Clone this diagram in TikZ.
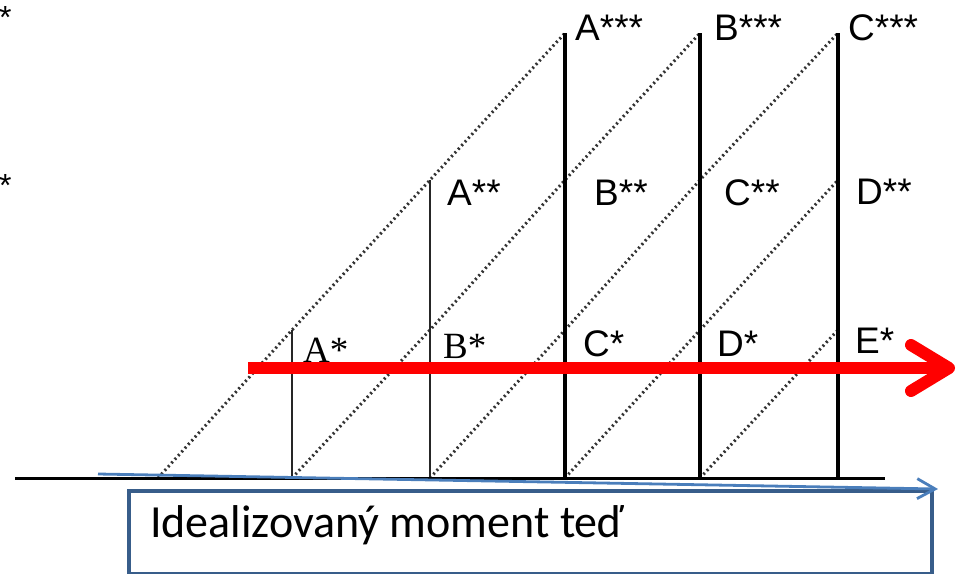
\documentclass[tikz,border=0pt]{standalone}
\usepackage{fontspec}
\setmainfont{Liberation Sans}
\newfontfamily\timesfont{Liberation Serif}
\newfontfamily\calibrifont{Carlito}
\usetikzlibrary{arrows.meta,positioning}

\definecolor{boxblue}{RGB}{56,93,138}
\definecolor{lineblue}{RGB}{74,126,187}

\begin{document}
\begin{tikzpicture}[
    x=1pt, y=-1pt,
    % Styles
    axisLine/.style={line width=3pt, black},
    thinTick/.style={line width=1.8pt, black!85},
    thickTick/.style={line width=3.2pt, black},
    echoLine/.style={line width=3pt, black!80, dash pattern=on 2pt off 3pt},
    starLabel/.style={anchor=base west, inner sep=0pt, font=\fontsize{37}{40}\selectfont},
    serifLabel/.style={anchor=base west, inner sep=0pt, font=\timesfont\fontsize{37}{40}\selectfont},
    nowArrow/.style={red, line width=12pt, -{Straight Barb[length=38pt 0, width=46pt 0, round]}},
    momentArrow/.style={lineblue, line width=2.8pt, -{Straight Barb[length=18pt 0, width=20pt 0]}},
    momentBox/.style={draw=boxblue, line width=3.5pt, minimum width=803pt, minimum height=83pt, inner sep=0pt}
]
\useasboundingbox (0,0) rectangle (957,573);

% ================= GRID POINTS =================
\coordinate (axisL) at (15,478);
\coordinate (axisR) at (885,478);
% base row
\coordinate (b0) at (158,478);
\coordinate (b1) at (292,478);
\coordinate (b2) at (430,478);
\coordinate (b3) at (565,478);
\coordinate (b4) at (700,478);
\coordinate (b5) at (838,478);
% first level
\coordinate (m1) at (292,330);
\coordinate (m2) at (430,330);
\coordinate (m3) at (565,330);
\coordinate (m4) at (700,330);
\coordinate (m5) at (838,330);
% second level
\coordinate (h2) at (430,180);
\coordinate (h3) at (565,180);
\coordinate (h4) at (700,180);
\coordinate (h5) at (838,180);
% third level
\coordinate (t3) at (565,33);
\coordinate (t4) at (700,33);
\coordinate (t5) at (838,33);

% ================= DOTTED ECHOES =================
\draw[echoLine] (b0) -- (m1) -- (h2) -- (t3);
\draw[echoLine] (b1) -- (m2) -- (h3) -- (t4);
\draw[echoLine] (b2) -- (m3) -- (h4) -- (t5);
\draw[echoLine] (b3) -- (m4) -- (h5);
\draw[echoLine] (b4) -- (m5);

% ================= VERTICAL LINES =================
\draw[thinTick] (b1) -- (m1);
\draw[thinTick] (b2) -- (h2);
\draw[thickTick] (b3) -- (t3);
\draw[thickTick] (b4) -- (t4);
\draw[thickTick] (b5) -- (t5);

% time axis
\draw[axisLine] (axisL) -- (axisR);

% ================= LABELS =================
\node[serifLabel] (As1) at (303,362) {A*};
\node[serifLabel] (Bs1) at (443,358) {B*};
\node[starLabel] (Cs1) at (583,356) {C*};
\node[starLabel] (Ds1) at (717,356) {D*};
\node[starLabel] (Es1) at (855,353) {E*};

\node[starLabel] (As2) at (447,205) {A**};
\node[starLabel] (Bs2) at (594,205) {B**};
\node[starLabel] (Cs2) at (724,205) {C**};
\node[starLabel] (Ds2) at (856,204) {D**};

\node[starLabel] (As3) at (575,40) {A***};
\node[starLabel] (Bs3) at (714,40) {B***};
\node[starLabel] (Cs3) at (848,40) {C***};

% labels at the left edge
\node[starLabel, font=\fontsize{32}{34}\selectfont] (edgeTop) at (-1,28) {*};
\node[starLabel, font=\fontsize{32}{34}\selectfont] (edgeMid) at (-1,196) {*};

% ================= NOW ARROW =================
\coordinate (nowL) at (248,368);
\coordinate (nowR) at (955,368);
\draw[nowArrow] (nowL) -- (nowR);

% ================= IDEALIZED MOMENT =================
\node[momentBox, anchor=north west] (moment) at (127,489) {};
\node[anchor=base west, inner sep=0pt, font=\calibrifont\fontsize{46}{50}\selectfont] (momentText) at (150,537) {Idealizovaný moment teď};
\coordinate (momentL) at (98,474);
\coordinate (momentR) at (938,489);
\draw[momentArrow] (momentL) -- (momentR);

\end{tikzpicture}
\end{document}
